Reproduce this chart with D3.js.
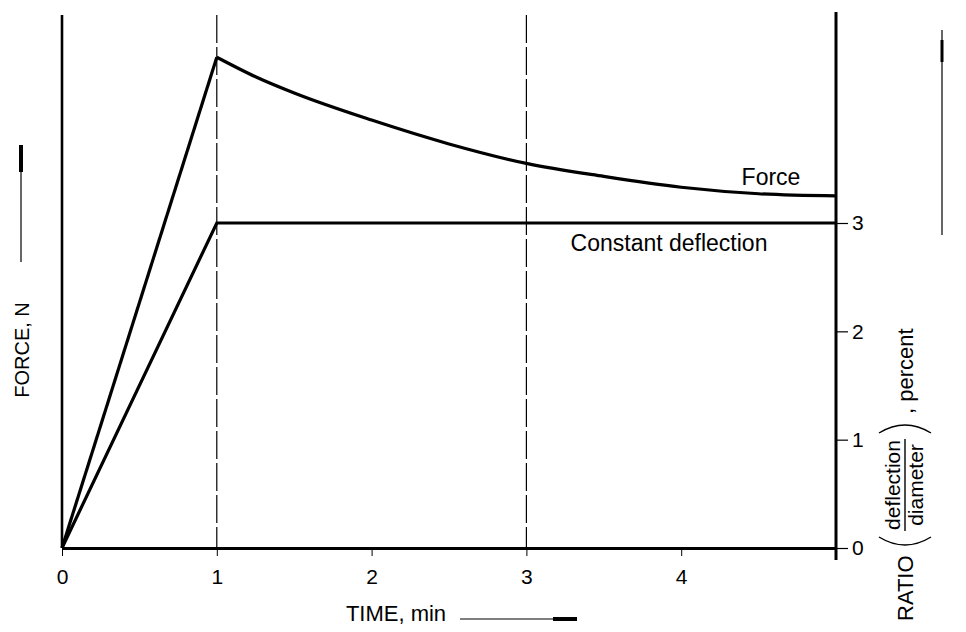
<!DOCTYPE html>
<html>
<head>
<meta charset="utf-8">
<script src="https://cdn.jsdelivr.net/npm/d3@7"></script>
<style>
  html, body { margin: 0; padding: 0; background: #fff; }
  svg { display: block; }
  text { font-family: "Liberation Sans", Arial, Helvetica, sans-serif; fill: #000; }
</style>
</head>
<body>
<svg id="chart" width="966" height="632"></svg>
<script>
// ---- data ----
const timeTicks = [0, 1, 2, 3, 4];
const ratioTicks = [0, 1, 2, 3];
const guideTimes = [1, 3];
// force (relative units, no scale printed on the chart)
const forceRampTime = [0, 1];
const forceRampValue = [0, 4.53];
const forceDecayTime = [1, 1.25, 1.5, 2, 2.5, 3, 3.5, 4, 4.5, 5];
const forceDecayValue = [4.53, 4.35, 4.20, 3.95, 3.73, 3.55, 3.43, 3.33, 3.27, 3.25];
// deflection / diameter ratio, percent
const deflTime = [0, 1, 5];
const deflValue = [0, 3, 3];

// ---- layout ----
const svg = d3.select("#chart");
const x = d3.scaleLinear().domain([0, 5]).range([62, 836]);
const yRatio = d3.scaleLinear().domain([0, 3]).range([548, 223]);
const yForce = d3.scaleLinear().domain([0, 4.92]).range([548, 15]);

// dashed guides
svg.selectAll("line.guide").data(guideTimes).join("line")
  .attr("class", "guide")
  .attr("x1", d => x(d)).attr("x2", d => x(d))
  .attr("y1", yForce(4.92)).attr("y2", yForce(0))
  .attr("stroke", "#000").attr("stroke-width", 1.2)
  .attr("stroke-dasharray", "28,4");

// left axis line
svg.append("line")
  .attr("x1", x(0)).attr("x2", x(0))
  .attr("y1", yForce(4.92)).attr("y2", yForce(0))
  .attr("stroke", "#000").attr("stroke-width", 2.6);

// right axis
const rightAxis = svg.append("g")
  .attr("transform", `translate(${x(5)},0)`)
  .call(d3.axisRight(yRatio).tickValues(ratioTicks).tickFormat(d3.format("d"))
        .tickSize(12).tickPadding(4).tickSizeOuter(0));
rightAxis.select(".domain").remove();
rightAxis.selectAll(".tick line").attr("stroke-width", 1.2);
rightAxis.selectAll("text").attr("font-size", 21);
svg.append("line")
  .attr("x1", x(5)).attr("x2", x(5))
  .attr("y1", 12).attr("y2", 560)
  .attr("stroke", "#000").attr("stroke-width", 3);

// bottom axis
const bottomAxis = svg.append("g")
  .attr("transform", `translate(0,${yForce(0)})`)
  .call(d3.axisBottom(x).tickValues(timeTicks).tickFormat(d3.format("d"))
        .tickSize(8).tickPadding(13).tickSizeOuter(0));
bottomAxis.select(".domain").attr("stroke-width", 3);
bottomAxis.selectAll(".tick line").attr("stroke-width", 1);
bottomAxis.selectAll("text").attr("font-size", 21);

// curves
const lineF = d3.line().x(d => x(d[0])).y(d => yForce(d[1]));
const lineR = d3.line().x(d => x(d[0])).y(d => yRatio(d[1]));
svg.append("path")
  .attr("d", lineF(forceRampTime.map((t, i) => [t, forceRampValue[i]])))
  .attr("fill", "none").attr("stroke", "#000").attr("stroke-width", 3.2);
svg.append("path")
  .attr("d", lineF.curve(d3.curveMonotoneX)(forceDecayTime.map((t, i) => [t, forceDecayValue[i]])))
  .attr("fill", "none").attr("stroke", "#000").attr("stroke-width", 3.2);
svg.append("path")
  .attr("d", lineR(deflTime.map((t, i) => [t, deflValue[i]])))
  .attr("fill", "none").attr("stroke", "#000").attr("stroke-width", 3.2)
  .attr("stroke-linejoin", "miter");

// curve labels
svg.append("text").attr("x", 771).attr("y", 185)
  .attr("text-anchor", "middle").attr("font-size", 23).text("Force");
svg.append("text").attr("x", 669).attr("y", 251)
  .attr("text-anchor", "middle").attr("font-size", 23).text("Constant deflection");

// left axis title + arrow
svg.append("text")
  .attr("transform", "translate(29,350) rotate(-90)")
  .attr("text-anchor", "middle").attr("font-size", 20).text("FORCE, N");
svg.append("line").attr("x1", 21).attr("x2", 21).attr("y1", 145).attr("y2", 262)
  .attr("stroke", "#000").attr("stroke-width", 1.2);
svg.append("line").attr("x1", 21).attr("x2", 21).attr("y1", 145).attr("y2", 172)
  .attr("stroke", "#000").attr("stroke-width", 4);

// bottom title + arrow
svg.append("text").attr("x", 396).attr("y", 621)
  .attr("text-anchor", "middle").attr("font-size", 22).text("TIME, min");
svg.append("line").attr("x1", 460).attr("x2", 577).attr("y1", 619).attr("y2", 619)
  .attr("stroke", "#000").attr("stroke-width", 1.2);
svg.append("line").attr("x1", 553).attr("x2", 577).attr("y1", 619).attr("y2", 619)
  .attr("stroke", "#000").attr("stroke-width", 4);

// right axis title
const rt = svg.append("g").attr("transform", "translate(905,621) rotate(-90)");
rt.append("text").attr("x", 0).attr("y", 8).attr("font-size", 22).text("RATIO");
rt.append("path").attr("d", "M 84,-26 Q 68,0 84,26")
  .attr("fill", "none").attr("stroke", "#000").attr("stroke-width", 1.4);
rt.append("text").attr("x", 136).attr("y", -5).attr("text-anchor", "middle")
  .attr("font-size", 21).text("deflection");
rt.append("line").attr("x1", 90).attr("x2", 182).attr("y1", 0).attr("y2", 0)
  .attr("stroke", "#000").attr("stroke-width", 1.4);
rt.append("text").attr("x", 136).attr("y", 18).attr("text-anchor", "middle")
  .attr("font-size", 21).text("diameter");
rt.append("path").attr("d", "M 188,-26 Q 204,0 188,26")
  .attr("fill", "none").attr("stroke", "#000").attr("stroke-width", 1.4);
rt.append("text").attr("x", 207).attr("y", 8).attr("font-size", 22).text(", percent");
// right arrow
svg.append("line").attr("x1", 942).attr("x2", 942).attr("y1", 30).attr("y2", 235)
  .attr("stroke", "#000").attr("stroke-width", 1.2);
svg.append("line").attr("x1", 942).attr("x2", 942).attr("y1", 40).attr("y2", 62)
  .attr("stroke", "#000").attr("stroke-width", 3);
</script>
</body>
</html>
